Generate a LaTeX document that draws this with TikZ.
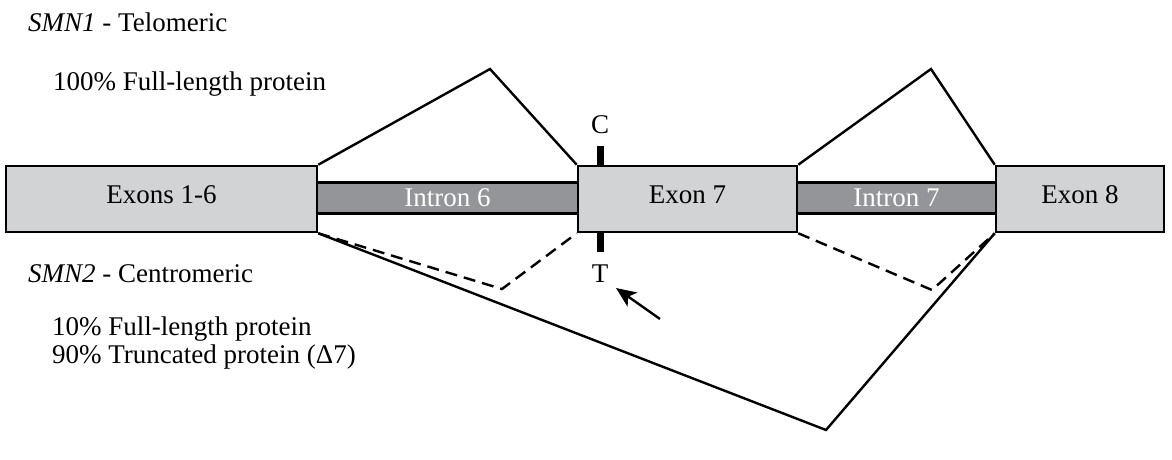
\documentclass[tikz,border=0pt]{standalone}
\usepackage{fontspec}
\setmainfont{Liberation Serif}
\usetikzlibrary{arrows.meta}
\definecolor{exonfill}{RGB}{209,211,212}
\definecolor{intronfill}{RGB}{147,149,152}
\tikzset{
  txt/.style={font=\fontsize{27}{30}\selectfont},
  exonbox/.style={draw=black, fill=exonfill, line width=2.6pt, inner sep=0pt, minimum height=66pt, text depth=9pt, txt},
  intronbox/.style={draw=black, fill=intronfill, line width=2.6pt, inner sep=0pt, minimum height=31pt, text=white, txt},
  splice/.style={line width=2.4pt, line join=miter},
  altsplice/.style={line width=2.4pt, dash pattern=on 12pt off 7pt},
  lbl/.style={inner sep=0pt, anchor=base west, txt},
  ctbar/.style={line width=7pt},
}
\begin{document}
\begin{tikzpicture}[x=1pt,y=-1pt]
\useasboundingbox (0,0) rectangle (1172,460);
% introns
\node[intronbox, minimum width=261pt] (i6) at (447.5,198) {Intron 6};
\node[intronbox, minimum width=199pt] (i7) at (896.5,198) {Intron 7};
% exons
\node[exonbox, minimum width=311pt] (e16) at (161.5,199) {Exons 1-6};
\node[exonbox, minimum width=219pt] (e7) at (687.5,199) {Exon 7};
\node[exonbox, minimum width=168pt] (e8) at (1080,199) {Exon 8};
% splice apexes
\coordinate (p6) at (490,69);
\coordinate (p7) at (931,69);
\coordinate (d6) at (502,289);
\coordinate (d7) at (932,290);
\coordinate (skip) at (826,430);
\draw[splice] (e16.north east) -- (p6) -- (e7.north west);
\draw[splice] (e7.north east) -- (p7) -- (e8.north west);
\draw[altsplice] (e16.south east) -- (d6) -- (e7.south west);
\draw[altsplice] (e7.south east) -- (d7) -- (e8.south west);
\draw[splice] (e16.south east) -- (skip) -- (e8.south west);
% C/T marks
\coordinate (ct) at (600,199);
\draw[ctbar] (600,146) -- (e7.north west -| ct);
\draw[ctbar] (e7.south west -| ct) -- (600,252);
\node[txt, inner sep=0pt] (c) at (600,125) {C};
\node[txt, inner sep=0pt] (t) at (600,274) {T};
\coordinate (atail) at (660,319);
\coordinate (ahead) at (616,288);
\draw[line width=2.4pt, -{Stealth[length=20pt,width=17pt,inset=5pt]}] (atail) -- (ahead);
% labels
\node[lbl] (s1) at (28,32) {\textit{SMN1} - Telomeric};
\node[lbl] (s1p) at (53,90) {100\% Full-length protein};
\node[lbl] (s2) at (28,282) {\textit{SMN2} - Centromeric};
\node[lbl] (s2a) at (52,335) {10\% Full-length protein};
\node[lbl] (s2b) at (52,363) {90\% Truncated protein (Δ7)};
\end{tikzpicture}
\end{document}
